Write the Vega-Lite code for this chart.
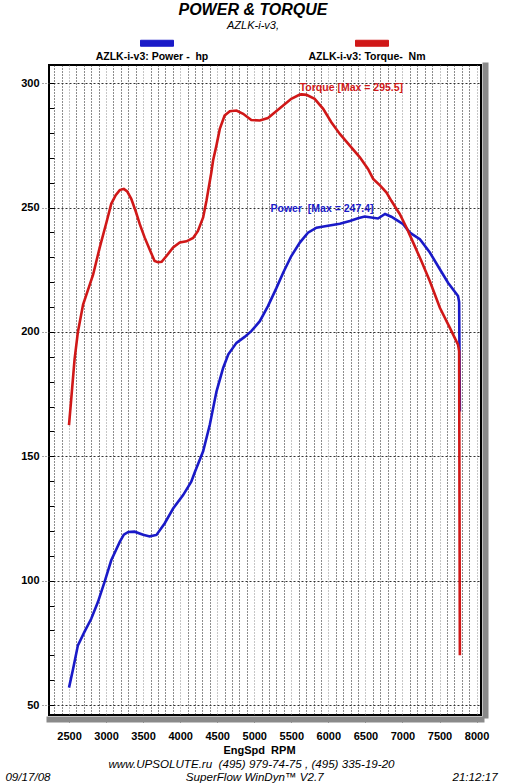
{
  "$schema": "https://vega.github.io/schema/vega-lite/v6.json",
  "width": 432,
  "height": 650,
  "autosize": {"type": "none"},
  "padding": {"left": 49, "top": 65, "right": 24, "bottom": 69},
  "background": "white",
  "config": {
    "font": "Liberation Sans",
    "view": {"stroke": "black", "strokeWidth": 2, "fill": "white"}
  },
  "title": {
    "text": "POWER & TORQUE",
    "subtitle": "AZLK-i-v3,",
    "anchor": "middle",
    "frame": "group",
    "dx": -12,
    "offset": 4,
    "font": "Liberation Sans",
    "fontSize": 16,
    "fontWeight": "bold",
    "fontStyle": "italic",
    "color": "black",
    "subtitleFont": "Liberation Sans",
    "subtitleFontSize": 11,
    "subtitleFontStyle": "italic",
    "subtitleColor": "black",
    "subtitlePadding": 2
  },
  "datasets": {
    "curves": [
      {"series": "Power", "rpm": 2500, "value": 57},
      {"series": "Power", "rpm": 2555, "value": 64.5},
      {"series": "Power", "rpm": 2620, "value": 74},
      {"series": "Power", "rpm": 2710, "value": 79.5},
      {"series": "Power", "rpm": 2800, "value": 84.7},
      {"series": "Power", "rpm": 2890, "value": 91.4},
      {"series": "Power", "rpm": 2980, "value": 99.5},
      {"series": "Power", "rpm": 3070, "value": 108.2},
      {"series": "Power", "rpm": 3185, "value": 115.6},
      {"series": "Power", "rpm": 3240, "value": 118.5},
      {"series": "Power", "rpm": 3300, "value": 119.6},
      {"series": "Power", "rpm": 3385, "value": 119.7},
      {"series": "Power", "rpm": 3500, "value": 118.5},
      {"series": "Power", "rpm": 3590, "value": 117.8},
      {"series": "Power", "rpm": 3680, "value": 118.4},
      {"series": "Power", "rpm": 3790, "value": 123},
      {"series": "Power", "rpm": 3905, "value": 129},
      {"series": "Power", "rpm": 4040, "value": 134.4},
      {"series": "Power", "rpm": 4150, "value": 139.8},
      {"series": "Power", "rpm": 4200, "value": 143.8},
      {"series": "Power", "rpm": 4310, "value": 152},
      {"series": "Power", "rpm": 4400, "value": 162.7},
      {"series": "Power", "rpm": 4490, "value": 176},
      {"series": "Power", "rpm": 4580, "value": 185.5},
      {"series": "Power", "rpm": 4650, "value": 191},
      {"series": "Power", "rpm": 4760, "value": 195.6},
      {"series": "Power", "rpm": 4870, "value": 198},
      {"series": "Power", "rpm": 4960, "value": 200.3},
      {"series": "Power", "rpm": 5075, "value": 204.3},
      {"series": "Power", "rpm": 5185, "value": 210.4},
      {"series": "Power", "rpm": 5300, "value": 217.7},
      {"series": "Power", "rpm": 5390, "value": 223.8},
      {"series": "Power", "rpm": 5500, "value": 230.5},
      {"series": "Power", "rpm": 5615, "value": 235.9},
      {"series": "Power", "rpm": 5725, "value": 239.9},
      {"series": "Power", "rpm": 5840, "value": 241.9},
      {"series": "Power", "rpm": 5975, "value": 242.6},
      {"series": "Power", "rpm": 6155, "value": 243.5},
      {"series": "Power", "rpm": 6290, "value": 244.6},
      {"series": "Power", "rpm": 6400, "value": 245.7},
      {"series": "Power", "rpm": 6490, "value": 246.4},
      {"series": "Power", "rpm": 6580, "value": 246},
      {"series": "Power", "rpm": 6670, "value": 245.6},
      {"series": "Power", "rpm": 6765, "value": 247.4},
      {"series": "Power", "rpm": 6850, "value": 246.3},
      {"series": "Power", "rpm": 6940, "value": 244.6},
      {"series": "Power", "rpm": 7010, "value": 243.3},
      {"series": "Power", "rpm": 7100, "value": 239.9},
      {"series": "Power", "rpm": 7235, "value": 237.3},
      {"series": "Power", "rpm": 7370, "value": 231.9},
      {"series": "Power", "rpm": 7505, "value": 225.2},
      {"series": "Power", "rpm": 7615, "value": 219.8},
      {"series": "Power", "rpm": 7750, "value": 214.4},
      {"series": "Power", "rpm": 7765, "value": 212},
      {"series": "Power", "rpm": 7775, "value": 168},
      {"series": "Torque", "rpm": 2500, "value": 162.5},
      {"series": "Torque", "rpm": 2530, "value": 173},
      {"series": "Torque", "rpm": 2575, "value": 189},
      {"series": "Torque", "rpm": 2620, "value": 200},
      {"series": "Torque", "rpm": 2690, "value": 211},
      {"series": "Torque", "rpm": 2780, "value": 219},
      {"series": "Torque", "rpm": 2825, "value": 223},
      {"series": "Torque", "rpm": 2915, "value": 234},
      {"series": "Torque", "rpm": 3005, "value": 244},
      {"series": "Torque", "rpm": 3070, "value": 251.5},
      {"series": "Torque", "rpm": 3130, "value": 255},
      {"series": "Torque", "rpm": 3185, "value": 257},
      {"series": "Torque", "rpm": 3240, "value": 257.5},
      {"series": "Torque", "rpm": 3285, "value": 256.5},
      {"series": "Torque", "rpm": 3340, "value": 253.5},
      {"series": "Torque", "rpm": 3400, "value": 248.5},
      {"series": "Torque", "rpm": 3455, "value": 243.3},
      {"series": "Torque", "rpm": 3520, "value": 238},
      {"series": "Torque", "rpm": 3590, "value": 233},
      {"series": "Torque", "rpm": 3655, "value": 228.5},
      {"series": "Torque", "rpm": 3700, "value": 228},
      {"series": "Torque", "rpm": 3750, "value": 228.2},
      {"series": "Torque", "rpm": 3815, "value": 230.5},
      {"series": "Torque", "rpm": 3905, "value": 234},
      {"series": "Torque", "rpm": 3995, "value": 236},
      {"series": "Torque", "rpm": 4085, "value": 236.4},
      {"series": "Torque", "rpm": 4175, "value": 237.8},
      {"series": "Torque", "rpm": 4240, "value": 240.6},
      {"series": "Torque", "rpm": 4310, "value": 246},
      {"series": "Torque", "rpm": 4355, "value": 252.7},
      {"series": "Torque", "rpm": 4420, "value": 264},
      {"series": "Torque", "rpm": 4445, "value": 269},
      {"series": "Torque", "rpm": 4490, "value": 275},
      {"series": "Torque", "rpm": 4535, "value": 281.6},
      {"series": "Torque", "rpm": 4600, "value": 287},
      {"series": "Torque", "rpm": 4670, "value": 288.7},
      {"series": "Torque", "rpm": 4760, "value": 289},
      {"series": "Torque", "rpm": 4850, "value": 287.7},
      {"series": "Torque", "rpm": 4960, "value": 285.2},
      {"series": "Torque", "rpm": 5075, "value": 285},
      {"series": "Torque", "rpm": 5185, "value": 286},
      {"series": "Torque", "rpm": 5255, "value": 287.7},
      {"series": "Torque", "rpm": 5390, "value": 291},
      {"series": "Torque", "rpm": 5500, "value": 293.7},
      {"series": "Torque", "rpm": 5615, "value": 295.4},
      {"series": "Torque", "rpm": 5640, "value": 295.5},
      {"series": "Torque", "rpm": 5705, "value": 295.3},
      {"series": "Torque", "rpm": 5815, "value": 293.7},
      {"series": "Torque", "rpm": 5930, "value": 289.7},
      {"series": "Torque", "rpm": 6040, "value": 284.3},
      {"series": "Torque", "rpm": 6155, "value": 279.6},
      {"series": "Torque", "rpm": 6290, "value": 274.9},
      {"series": "Torque", "rpm": 6425, "value": 270.2},
      {"series": "Torque", "rpm": 6535, "value": 265.5},
      {"series": "Torque", "rpm": 6605, "value": 261.5},
      {"series": "Torque", "rpm": 6700, "value": 258.8},
      {"series": "Torque", "rpm": 6785, "value": 256},
      {"series": "Torque", "rpm": 6850, "value": 252.7},
      {"series": "Torque", "rpm": 6965, "value": 247.3},
      {"series": "Torque", "rpm": 7055, "value": 241.9},
      {"series": "Torque", "rpm": 7145, "value": 235.9},
      {"series": "Torque", "rpm": 7255, "value": 228.5},
      {"series": "Torque", "rpm": 7370, "value": 220.4},
      {"series": "Torque", "rpm": 7505, "value": 209.7},
      {"series": "Torque", "rpm": 7640, "value": 201.6},
      {"series": "Torque", "rpm": 7750, "value": 194.9},
      {"series": "Torque", "rpm": 7765, "value": 192.2},
      {"series": "Torque", "rpm": 7775, "value": 70}
    ],
    "torqueMax": [{"rpm": 5640, "value": 295.5, "label": "Torque [Max = 295.5]"}],
    "powerMax": [{"rpm": 6765, "value": 247.4, "label": "Power\u00a0 [Max = 247.4]"}]
  },
  "layer": [
    {
      "data": {"name": "curves"},
      "mark": {"type": "line", "strokeWidth": 2.6},
      "encoding": {
        "x": {
          "field": "rpm", "type": "quantitative",
          "scale": {"domain": [2230, 8060], "nice": false, "zero": false},
          "axis": {
            "orient": "bottom", "offset": 4,
            "values": [2500, 3000, 3500, 4000, 4500, 5000, 5500, 6000, 6500, 7000, 7500, 8000],
            "format": "d", "labelFlush": false, "labelOverlap": false,
            "labelFont": "Liberation Sans", "labelFontWeight": "bold", "labelFontSize": 11, "labelColor": "black", "labelPadding": 8,
            "tickSize": 3, "tickColor": "#333333", "tickWidth": 1,
            "domain": true, "domainColor": "#8a8a8a", "domainWidth": 6, "domainCap": "square",
            "grid": false,
            "title": "EngSpd\u00a0 RPM", "titleFont": "Liberation Sans", "titleFontWeight": "bold", "titleFontSize": 11, "titleColor": "black", "titlePadding": 3, "titleX": 210
          }
        },
        "y": {
          "field": "value", "type": "quantitative",
          "scale": {"domain": [46, 307.3], "nice": false, "zero": false},
          "axis": {
            "orient": "left", "values": [50, 100, 150, 200, 250, 300],
            "labelFont": "Liberation Sans", "labelFontWeight": "bold", "labelFontSize": 11, "labelColor": "black", "labelPadding": 1,
            "tickSize": 9, "tickDash": [1, 2], "tickColor": "#555555",
            "domain": false, "grid": true, "gridDash": [2, 2], "gridColor": "#333333", "gridOpacity": 1,
            "title": null
          }
        },
        "color": {
          "field": "series", "type": "nominal",
          "scale": {"domain": ["Power", "Torque"], "range": ["#1a1ac8", "#d01818"]},
          "legend": {
            "orient": "none", "legendX": 91, "legendY": -30, "direction": "horizontal", "title": null,
            "symbolType": "M-1,-0.727H1V-0.364H-1Z", "symbolSize": 1089, "symbolStrokeWidth": 1,
            "labelAlign": "center", "labelBaseline": "top", "labelOffset": -22,
            "labelFont": "Liberation Sans", "labelFontSize": 10.5, "labelFontWeight": "bold", "labelColor": "black",
            "columnPadding": 99, "padding": 0,
            "labelExpr": "datum.value == 'Power' ? 'AZLK-i-v3: Power -\u00a0 hp' : 'AZLK-i-v3: Torque-\u00a0 Nm'",
            "encode": {"symbols": {"update": {"fill": {"scale": "color", "field": "value"}, "stroke": {"value": "black"}, "strokeWidth": {"value": 1}, "opacity": {"value": 1}}}}
          }
        }
      }
    },
    {
      "data": {"name": "torqueMax"},
      "mark": {"type": "text", "align": "left", "baseline": "alphabetic", "dx": -2, "dy": -3.7, "font": "Liberation Sans", "fontSize": 10.5, "fontWeight": "bold", "color": "#d01818"},
      "encoding": {
        "x": {
          "field": "rpm", "type": "quantitative",
          "scale": {"domain": [2230, 8060], "nice": false, "zero": false},
          "axis": {
            "orient": "bottom", "offset": 0,
            "values": [2300, 2400, 2500, 2600, 2700, 2800, 2900, 3000, 3100, 3200, 3300, 3400, 3500, 3600, 3700, 3800, 3900, 4000, 4100, 4200, 4300, 4400, 4500, 4600, 4700, 4800, 4900, 5000, 5100, 5200, 5300, 5400, 5500, 5600, 5700, 5800, 5900, 6000, 6100, 6200, 6300, 6400, 6500, 6600, 6700, 6800, 6900, 7000, 7100, 7200, 7300, 7400, 7500, 7600, 7700, 7800, 7900, 8000],
            "grid": true, "gridDash": [1, 2], "gridWidth": 1,
            "gridColor": {"condition": {"test": "datum.value % 500 === 0", "value": "#8c8c8c"}, "value": "#1a1a1a"},
            "labels": false, "ticks": false, "domain": false,
            "title": ["www.UPSOLUTE.ru\u00a0 (495) 979-74-75 , (495) 335-19-20", "09/17/08\u00a0\u00a0\u00a0\u00a0\u00a0\u00a0\u00a0\u00a0\u00a0\u00a0\u00a0\u00a0\u00a0\u00a0\u00a0\u00a0\u00a0\u00a0\u00a0\u00a0\u00a0\u00a0\u00a0\u00a0\u00a0\u00a0\u00a0\u00a0\u00a0\u00a0\u00a0\u00a0\u00a0\u00a0\u00a0\u00a0\u00a0\u00a0\u00a0\u00a0\u00a0\u00a0SuperFlow WinDyn™ V2.7\u00a0\u00a0\u00a0\u00a0\u00a0\u00a0\u00a0\u00a0\u00a0\u00a0\u00a0\u00a0\u00a0\u00a0\u00a0\u00a0\u00a0\u00a0\u00a0\u00a0\u00a0\u00a0\u00a0\u00a0\u00a0\u00a0\u00a0\u00a0\u00a0\u00a0\u00a0\u00a0\u00a0\u00a0\u00a0\u00a0\u00a0\u00a0\u00a0\u00a021:12:17"],
            "titleFont": "Liberation Sans", "titleFontStyle": "italic", "titleFontWeight": "normal", "titleFontSize": 11.6, "titleLineHeight": 13, "titleColor": "black", "titlePadding": 43, "titleX": 202
          }
        },
        "y": {
          "field": "value", "type": "quantitative",
          "scale": {"domain": [46, 307.3], "nice": false, "zero": false},
          "axis": {
            "orient": "left",
            "values": [50, 60, 70, 80, 90, 100, 110, 120, 130, 140, 150, 160, 170, 180, 190, 200, 210, 220, 230, 240, 250, 260, 270, 280, 290, 300],
            "labels": false, "tickSize": -5, "tickColor": "black", "tickWidth": 1, "domain": false, "grid": false, "title": null
          }
        },
        "text": {"field": "label", "type": "nominal"}
      }
    },
    {
      "data": {"name": "powerMax"},
      "mark": {"type": "text", "align": "right", "baseline": "alphabetic", "dx": -11.5, "dy": -2.4, "font": "Liberation Sans", "fontSize": 10.5, "fontWeight": "bold", "color": "#1a1ac8"},
      "encoding": {
        "x": {
          "field": "rpm", "type": "quantitative",
          "scale": {"domain": [2230, 8060], "nice": false, "zero": false},
          "axis": null
        },
        "y": {
          "field": "value", "type": "quantitative",
          "scale": {"domain": [46, 307.3], "nice": false, "zero": false},
          "axis": {
            "orient": "right", "offset": 4, "labels": false, "ticks": false, "grid": false,
            "domain": true, "domainColor": "#8a8a8a", "domainWidth": 6, "domainCap": "square", "title": null
          }
        },
        "text": {"field": "label", "type": "nominal"}
      }
    }
  ],
  "resolve": {"scale": {"x": "independent", "y": "independent"}}
}
